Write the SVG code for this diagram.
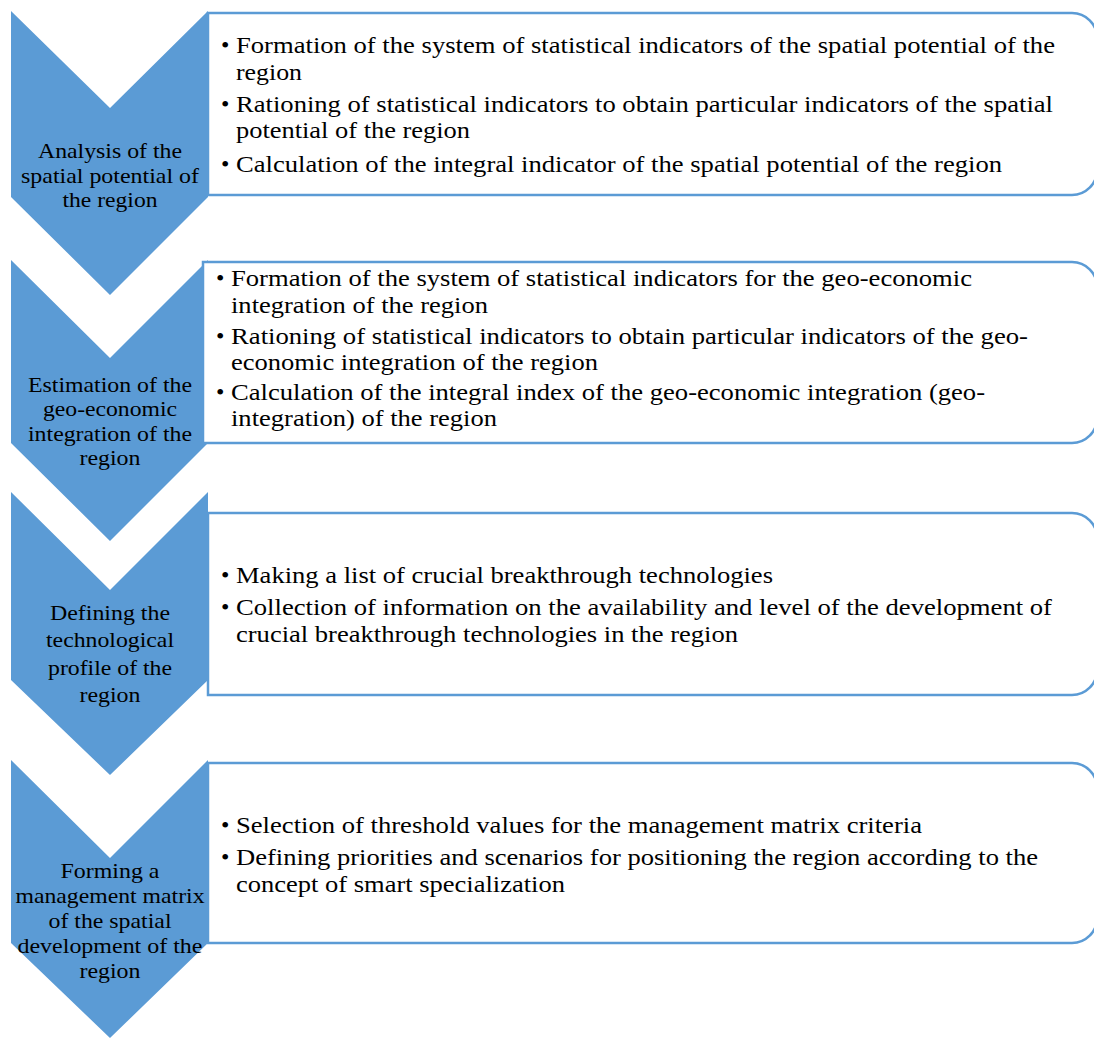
<svg xmlns="http://www.w3.org/2000/svg" width="1094" height="1039" viewBox="0 0 1094 1039">
<style>
.chev{fill:#5B9BD5;stroke:none}
.box{fill:#FFFFFF;stroke:#5B9BD5;stroke-width:2.5}
.lbl{font-size:21px;fill:#000;text-anchor:middle}
.item{font-size:24px;fill:#000}
</style>
<rect width="1094" height="1039" fill="#FFFFFF"/>
<g font-family="'Liberation Serif', Tinos, 'Times New Roman', 'DejaVu Serif', serif">
<g id="step1">
<polygon class="chev" points="11,11 110,108 208,11 208,197 110,295 11,197"/>
<text class="lbl" lengthAdjust="spacingAndGlyphs"><tspan x="110" y="158" textLength="144" lengthAdjust="spacingAndGlyphs">Analysis of the</tspan><tspan x="110" y="183" textLength="178" lengthAdjust="spacingAndGlyphs">spatial potential of</tspan><tspan x="110" y="207" textLength="95" lengthAdjust="spacingAndGlyphs">the region</tspan></text>
</g>
<g id="step2">
<polygon class="chev" points="11,260 110,358 208,260 208,443 110,541 11,443"/>
<text class="lbl"><tspan x="110" y="392" textLength="164" lengthAdjust="spacingAndGlyphs">Estimation of the</tspan><tspan x="110" y="416" textLength="134" lengthAdjust="spacingAndGlyphs">geo-economic</tspan><tspan x="110" y="441" textLength="164" lengthAdjust="spacingAndGlyphs">integration of the</tspan><tspan x="110" y="465" textLength="61" lengthAdjust="spacingAndGlyphs">region</tspan></text>
</g>
<g id="step3">
<polygon class="chev" points="11,492 110,590 208,492 208,680 110,775 11,680"/>
<text class="lbl"><tspan x="110" y="620" textLength="120" lengthAdjust="spacingAndGlyphs">Defining the</tspan><tspan x="110" y="647" textLength="128" lengthAdjust="spacingAndGlyphs">technological</tspan><tspan x="110" y="675" textLength="124" lengthAdjust="spacingAndGlyphs">profile of the</tspan><tspan x="110" y="702" textLength="61" lengthAdjust="spacingAndGlyphs">region</tspan></text>
</g>
<g id="step4">
<polygon class="chev" points="11,760 110,858 208,760 208,943 110,1038 11,943"/>
<text class="lbl"><tspan x="110" y="878" textLength="99" lengthAdjust="spacingAndGlyphs">Forming a</tspan><tspan x="110" y="903" textLength="189" lengthAdjust="spacingAndGlyphs">management matrix</tspan><tspan x="110" y="928" textLength="123" lengthAdjust="spacingAndGlyphs">of the spatial</tspan><tspan x="110" y="953" textLength="185" lengthAdjust="spacingAndGlyphs">development of the</tspan><tspan x="110" y="978" textLength="61" lengthAdjust="spacingAndGlyphs">region</tspan></text>
</g>
<g id="box1">
<path class="box" d="M208,13 H1072 A25,25 0 0 1 1097,38 V170 A25,25 0 0 1 1072,195 H208 Z"/>
<text class="item"><tspan x="221" y="53">•</tspan><tspan x="236" y="53" textLength="819" lengthAdjust="spacingAndGlyphs">Formation of the system of statistical indicators of the spatial potential of the</tspan><tspan x="236" y="80" textLength="66" lengthAdjust="spacingAndGlyphs">region</tspan><tspan x="221" y="112">•</tspan><tspan x="236" y="112" textLength="817" lengthAdjust="spacingAndGlyphs">Rationing of statistical indicators to obtain particular indicators of the spatial</tspan><tspan x="236" y="138" textLength="234" lengthAdjust="spacingAndGlyphs">potential of the region</tspan><tspan x="221" y="172">•</tspan><tspan x="236" y="172" textLength="766" lengthAdjust="spacingAndGlyphs">Calculation of the integral indicator of the spatial potential of the region</tspan></text>
</g>
<g id="box2">
<path class="box" d="M203,262 H1072 A25,25 0 0 1 1097,287 V418 A25,25 0 0 1 1072,443 H203 Z"/>
<text class="item"><tspan x="216" y="286">•</tspan><tspan x="231" y="286" textLength="741" lengthAdjust="spacingAndGlyphs">Formation of the system of statistical indicators for the geo-economic</tspan><tspan x="231" y="313" textLength="257" lengthAdjust="spacingAndGlyphs">integration of the region</tspan><tspan x="216" y="344">•</tspan><tspan x="231" y="344" textLength="797" lengthAdjust="spacingAndGlyphs">Rationing of statistical indicators to obtain particular indicators of the geo-</tspan><tspan x="231" y="370" textLength="367" lengthAdjust="spacingAndGlyphs">economic integration of the region</tspan><tspan x="216" y="400">•</tspan><tspan x="231" y="400" textLength="754" lengthAdjust="spacingAndGlyphs">Calculation of the integral index of the geo-economic integration (geo-</tspan><tspan x="231" y="426" textLength="266" lengthAdjust="spacingAndGlyphs">integration) of the region</tspan></text>
</g>
<g id="box3">
<path class="box" d="M208,513 H1072 A25,25 0 0 1 1097,538 V670 A25,25 0 0 1 1072,695 H208 Z"/>
<text class="item"><tspan x="221" y="583">•</tspan><tspan x="236" y="583" textLength="537" lengthAdjust="spacingAndGlyphs">Making a list of crucial breakthrough technologies</tspan><tspan x="221" y="615">•</tspan><tspan x="236" y="615" textLength="816" lengthAdjust="spacingAndGlyphs">Collection of information on the availability and level of the development of</tspan><tspan x="236" y="642" textLength="502" lengthAdjust="spacingAndGlyphs">crucial breakthrough technologies in the region</tspan></text>
</g>
<g id="box4">
<path class="box" d="M208,763 H1072 A25,25 0 0 1 1097,788 V918 A25,25 0 0 1 1072,943 H208 Z"/>
<text class="item"><tspan x="221" y="833">•</tspan><tspan x="236" y="833" textLength="686" lengthAdjust="spacingAndGlyphs">Selection of threshold values for the management matrix criteria</tspan><tspan x="221" y="865">•</tspan><tspan x="236" y="865" textLength="802" lengthAdjust="spacingAndGlyphs">Defining priorities and scenarios for positioning the region according to the</tspan><tspan x="236" y="892" textLength="329" lengthAdjust="spacingAndGlyphs">concept of smart specialization</tspan></text>
</g>
</g>
<g id="connectors"></g>
</svg>
